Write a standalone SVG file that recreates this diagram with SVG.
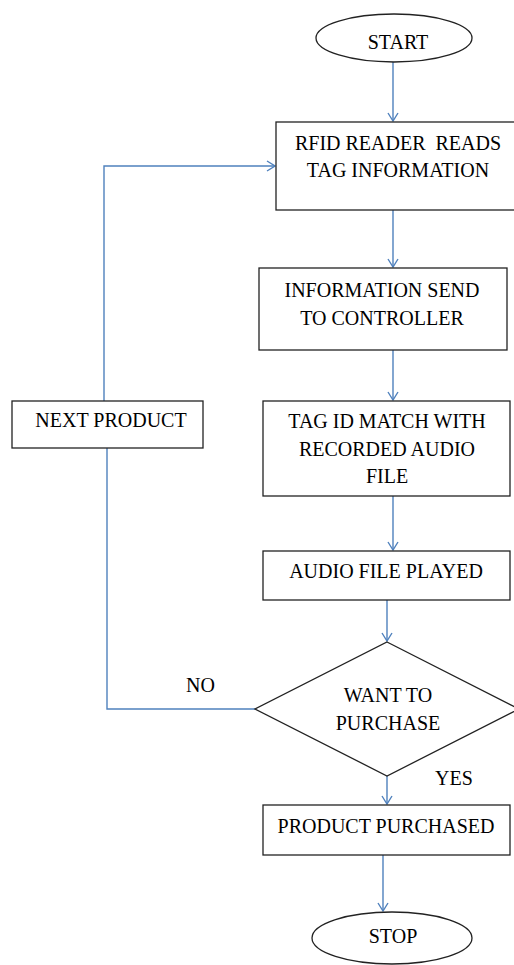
<svg xmlns="http://www.w3.org/2000/svg" width="514" height="965" viewBox="0 0 514 965">
<style>
.box{fill:#fff;stroke:#222;stroke-width:1.3}
.t{font-family:"Liberation Serif","Times New Roman",serif;font-size:20px;fill:#000;text-anchor:middle}
.tl{font-family:"Liberation Serif","Times New Roman",serif;font-size:20px;fill:#000}
.c{fill:none;stroke:#4f81bd;stroke-width:1.4}
</style>
<defs>
<marker id="arr" markerWidth="10" markerHeight="12" refX="9" refY="6" orient="auto" markerUnits="userSpaceOnUse">
<path d="M1,1 L9,6 L1,11" fill="none" stroke="#4f81bd" stroke-width="1.4"/>
</marker>
</defs>
<rect width="514" height="965" fill="#fff"/>
<g id="connectors">
<line class="c" x1="393" y1="62" x2="393" y2="121" marker-end="url(#arr)"/>
<line class="c" x1="393" y1="210" x2="393" y2="267" marker-end="url(#arr)"/>
<line class="c" x1="393" y1="350" x2="393" y2="400" marker-end="url(#arr)"/>
<line class="c" x1="393" y1="496" x2="393" y2="550" marker-end="url(#arr)"/>
<line class="c" x1="387" y1="600" x2="387" y2="641" marker-end="url(#arr)"/>
<line class="c" x1="387" y1="776" x2="387" y2="804" marker-end="url(#arr)"/>
<line class="c" x1="383" y1="855" x2="383" y2="911" marker-end="url(#arr)"/>
<polyline class="c" points="255,709 107,709 107,448"/>
<polyline class="c" points="104,401 104,166 275,166" marker-end="url(#arr)"/>
</g>
<g id="start">
<ellipse class="box" cx="394" cy="38" rx="78" ry="24"/>
<text class="t" x="398" y="49">START</text>
</g>
<g id="rfid">
<rect class="box" x="276" y="122" width="240" height="88"/>
<text class="t" x="398" y="150" xml:space="preserve">RFID READER  READS</text>
<text class="t" x="398" y="177">TAG INFORMATION</text>
</g>
<g id="send">
<rect class="box" x="259" y="268" width="248" height="82"/>
<text class="t" x="382" y="297">INFORMATION SEND</text>
<text class="t" x="382" y="325">TO CONTROLLER</text>
</g>
<g id="match">
<rect class="box" x="263" y="401" width="247" height="95"/>
<text class="t" x="387" y="428">TAG ID MATCH WITH</text>
<text class="t" x="387" y="456">RECORDED AUDIO</text>
<text class="t" x="387" y="483">FILE</text>
</g>
<g id="played">
<rect class="box" x="263" y="551" width="247" height="49"/>
<text class="t" x="386" y="578">AUDIO FILE PLAYED</text>
</g>
<g id="decision">
<polygon class="box" points="387,642 519,709 387,776 255,709"/>
<text class="t" x="388" y="702">WANT TO</text>
<text class="t" x="388" y="730">PURCHASE</text>
</g>
<g id="next">
<rect class="box" x="12" y="401" width="191" height="47"/>
<text class="t" x="111" y="427">NEXT PRODUCT</text>
</g>
<g id="purchased">
<rect class="box" x="263" y="805" width="247" height="50"/>
<text class="t" x="386" y="833">PRODUCT PURCHASED</text>
</g>
<g id="stop">
<ellipse class="box" cx="392" cy="938" rx="80" ry="26"/>
<text class="t" x="393" y="943">STOP</text>
</g>
<g id="labels">
<text class="tl" x="186" y="692">NO</text>
<text class="tl" x="435" y="785">YES</text>
</g>
</svg>
